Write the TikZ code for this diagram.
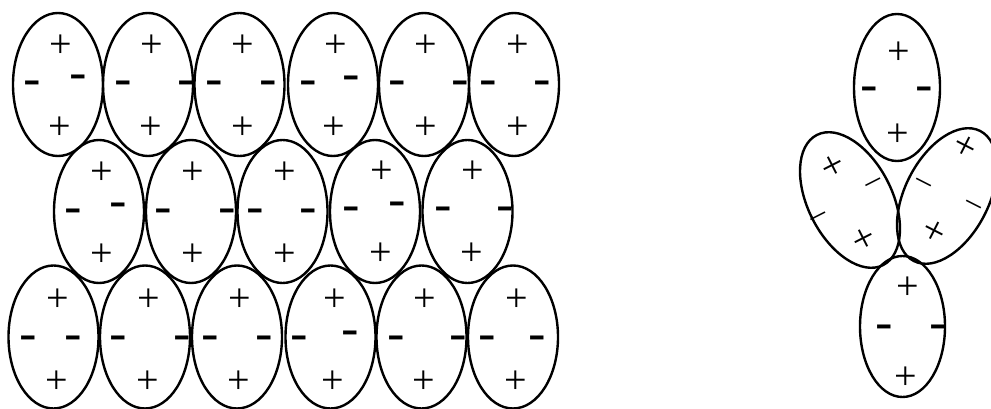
\documentclass[tikz,border=0pt]{standalone}
\usepackage{fontspec}
\newfontfamily\plusfont{Liberation Serif}
\newfontfamily\minusfont{Liberation Sans}
\usetikzlibrary{shapes.geometric}
\tikzset{
  cell/.style={draw=black, ellipse, line width=2.4pt, minimum width=90pt, minimum height=143pt, inner sep=0pt},
  plus/.style={font=\plusfont\fontsize{40}{40}\selectfont, inner sep=0pt},
  minus/.style={font=\minusfont\fontsize{33}{33}\selectfont\bfseries, xscale=1.6, inner sep=0pt, text height=0.56em, text depth=0pt},
  thinminus/.style={font=\plusfont\fontsize{32}{32}\selectfont, inner sep=0pt, text height=0.44em, text depth=0pt},
}
% #1 name, #2 cx, #3 cy
\newcommand\mycell[3]{\node[cell] (#1) at (#2,#3) {};}
% #1 name, then top plus (x,y), bottom plus (x,y), left minus (x,y), right minus (x,y)
\newcommand\mysigns[9]{%
  \node[plus]  (#1-tp) at (#2,#3) {+};
  \node[plus]  (#1-bp) at (#4,#5) {+};
  \node[minus] (#1-lm) at (#6,#7) {-};
  \node[minus] (#1-rm) at (#8,#9) {-};
}
\begin{document}
\begin{tikzpicture}[x=1pt,y=-1pt]
\useasboundingbox (0,0) rectangle (991,409);
% top row
\mycell{t1}{58}{84.5}    \mysigns{t1}{61}{46.5}{60}{128.5}{32}{89}{78}{83}
\mycell{t2}{148}{84.5}   \mysigns{t2}{152}{46.5}{151}{128.5}{123}{89}{186}{89}
\mycell{t3}{239.5}{84.5} \mysigns{t3}{243}{46.5}{243}{128.5}{214}{89}{268}{89}
\mycell{t4}{333}{84.5}   \mysigns{t4}{336}{46.5}{334}{128.5}{308}{89}{351}{84}
\mycell{t5}{424}{84.5}   \mysigns{t5}{426}{46.5}{426}{128.5}{397}{89}{460}{89}
\mycell{t6}{514}{84.5}   \mysigns{t6}{518}{46.5}{518}{128.5}{488}{89}{542}{89}
% middle row
\mycell{m1}{99}{211.5}    \mysigns{m1}{102}{173}{102}{255}{73}{217}{118}{211}
\mycell{m2}{191}{211.5}   \mysigns{m2}{193}{173}{193}{255}{163}{217}{227}{217}
\mycell{m3}{282.5}{211.5} \mysigns{m3}{285}{173}{285}{255}{255}{217}{308}{217}
\mycell{m4}{375}{211.5}   \mysigns{m4}{382}{172}{381}{254}{351}{215}{397}{210}
\mycell{m5}{467.5}{211.5} \mysigns{m5}{473}{172}{472}{254}{443}{215}{505}{215}
% bottom row
\mycell{b1}{53.5}{337}  \mysigns{b1}{58}{300}{57}{382}{28}{344}{73}{344}
\mycell{b2}{145}{337}   \mysigns{b2}{149}{300}{148}{382}{118}{344}{182}{344}
\mycell{b3}{237}{337}   \mysigns{b3}{240}{300}{239}{382}{210}{344}{264}{344}
\mycell{b4}{330.5}{337} \mysigns{b4}{335}{300}{333}{382}{299}{344}{350}{339}
\mycell{b5}{421.5}{337} \mysigns{b5}{425}{300}{424}{382}{396}{344}{458}{344}
\mycell{b6}{513}{337}   \mysigns{b6}{517}{300}{516}{382}{487}{344}{537}{344}
% right group
\node[cell, minimum width=86pt, minimum height=147pt] (r1) at (897,87.5) {};
\mysigns{r1}{899}{53}{898}{135}{869}{95}{924}{95}
\node[cell, minimum width=85pt, minimum height=141pt] (r4) at (902.5,326.5) {};
\mysigns{r4}{908}{288}{906}{378}{884}{333}{938}{333}
\node[cell, minimum width=84pt, minimum height=146pt, rotate=27] (r2) at (850,200) {};
\node[plus, rotate=27] (r2-tp) at (833,167) {+};
\node[plus, rotate=27] (r2-bp) at (864,240) {+};
\node[thinminus, rotate=27] (r2-rm) at (876,187) {\textendash};
\node[thinminus, rotate=27] (r2-lm) at (821,221) {\textendash};
\node[cell, minimum width=84pt, minimum height=146pt, rotate=-27] (r3) at (947,196) {};
\node[plus, rotate=-27] (r3-tp) at (965,148) {+};
\node[plus, rotate=-27] (r3-bp) at (934,233) {+};
\node[thinminus, rotate=-27] (r3-lm) at (922,187) {\textendash};
\node[thinminus, rotate=-27] (r3-rm) at (972,209) {\textendash};
\end{tikzpicture}
\end{document}
